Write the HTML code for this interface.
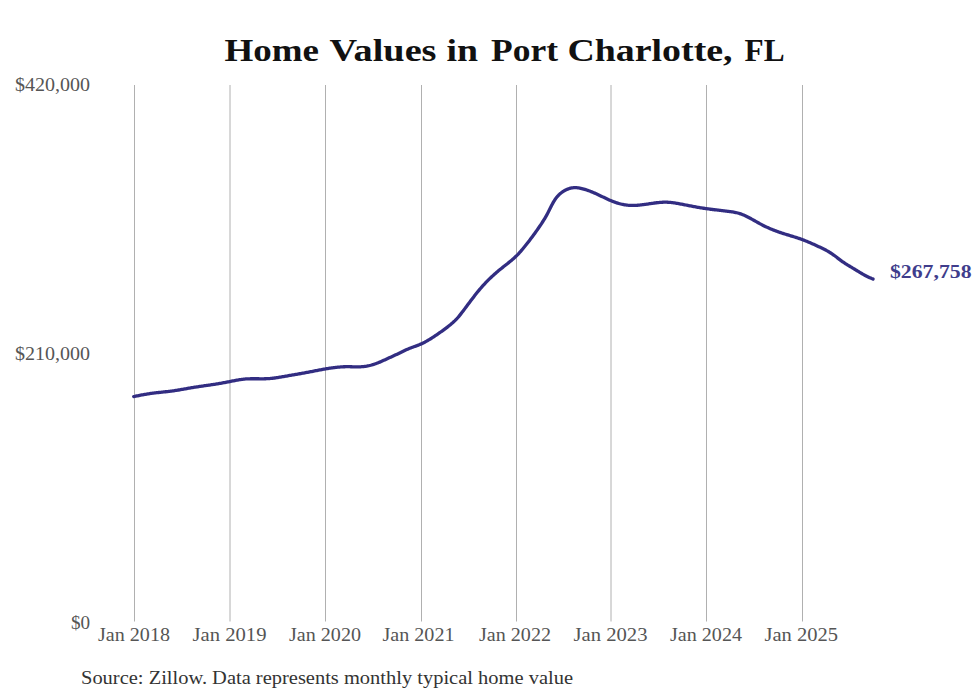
<!DOCTYPE html>
<html><head><meta charset="utf-8"><style>
html,body{margin:0;padding:0;background:#fff;width:980px;height:699px;overflow:hidden}
svg{display:block}
text{font-family:"Liberation Serif",serif}
</style></head><body>
<svg width="980" height="699" viewBox="0 0 980 699">
<rect width="980" height="699" fill="#fff"/>
<g stroke="#b0b0b0" stroke-width="1"><line x1="134.50" y1="85" x2="134.50" y2="621.5" /><line x1="230.00" y1="85" x2="230.00" y2="621.5" /><line x1="325.50" y1="85" x2="325.50" y2="621.5" /><line x1="421.50" y1="85" x2="421.50" y2="621.5" /><line x1="516.50" y1="85" x2="516.50" y2="621.5" /><line x1="611.00" y1="85" x2="611.00" y2="621.5" /><line x1="706.50" y1="85" x2="706.50" y2="621.5" /><line x1="802.50" y1="85" x2="802.50" y2="621.5" /></g>
<path d="M133.70,396.53 L134.70,396.38 L135.70,396.19 L136.70,395.98 L137.70,395.78 L138.70,395.58 L139.70,395.38 L140.70,395.18 L141.70,394.99 L142.70,394.80 L143.70,394.62 L144.70,394.43 L145.70,394.26 L146.70,394.09 L147.70,393.92 L148.70,393.76 L149.70,393.61 L150.70,393.46 L151.70,393.32 L152.70,393.19 L153.70,393.06 L154.70,392.94 L155.70,392.82 L156.70,392.71 L157.70,392.60 L158.70,392.49 L159.70,392.38 L160.70,392.28 L161.70,392.18 L162.70,392.07 L163.70,391.97 L164.70,391.87 L165.70,391.76 L166.70,391.65 L167.70,391.54 L168.70,391.43 L169.70,391.31 L170.70,391.19 L171.70,391.06 L172.70,390.92 L173.70,390.78 L174.70,390.64 L175.70,390.48 L176.70,390.33 L177.70,390.16 L178.70,390.00 L179.70,389.83 L180.70,389.65 L181.70,389.48 L182.70,389.30 L183.70,389.12 L184.70,388.94 L185.70,388.77 L186.70,388.59 L187.70,388.41 L188.70,388.23 L189.70,388.06 L190.70,387.89 L191.70,387.72 L192.70,387.55 L193.70,387.39 L194.70,387.23 L195.70,387.07 L196.70,386.92 L197.70,386.77 L198.70,386.62 L199.70,386.47 L200.70,386.32 L201.70,386.17 L202.70,386.03 L203.70,385.88 L204.70,385.74 L205.70,385.59 L206.70,385.45 L207.70,385.30 L208.70,385.16 L209.70,385.01 L210.70,384.86 L211.70,384.72 L212.70,384.57 L213.70,384.41 L214.70,384.26 L215.70,384.10 L216.70,383.95 L217.70,383.78 L218.70,383.62 L219.70,383.45 L220.70,383.28 L221.70,383.10 L222.70,382.93 L223.70,382.74 L224.70,382.55 L225.70,382.36 L226.70,382.17 L227.70,381.97 L228.70,381.77 L229.70,381.56 L230.70,381.36 L231.70,381.16 L232.70,380.96 L233.70,380.76 L234.70,380.57 L235.70,380.38 L236.70,380.20 L237.70,380.02 L238.70,379.86 L239.70,379.70 L240.70,379.55 L241.70,379.41 L242.70,379.28 L243.70,379.17 L244.70,379.07 L245.70,378.98 L246.70,378.91 L247.70,378.85 L248.70,378.81 L249.70,378.78 L250.70,378.75 L251.70,378.74 L252.70,378.73 L253.70,378.73 L254.70,378.73 L255.70,378.74 L256.70,378.75 L257.70,378.76 L258.70,378.77 L259.70,378.78 L260.70,378.79 L261.70,378.79 L262.70,378.79 L263.70,378.78 L264.70,378.77 L265.70,378.74 L266.70,378.71 L267.70,378.66 L268.70,378.61 L269.70,378.54 L270.70,378.45 L271.70,378.35 L272.70,378.25 L273.70,378.13 L274.70,378.00 L275.70,377.86 L276.70,377.72 L277.70,377.56 L278.70,377.40 L279.70,377.24 L280.70,377.07 L281.70,376.90 L282.70,376.72 L283.70,376.55 L284.70,376.37 L285.70,376.19 L286.70,376.01 L287.70,375.84 L288.70,375.66 L289.70,375.49 L290.70,375.31 L291.70,375.14 L292.70,374.96 L293.70,374.79 L294.70,374.62 L295.70,374.45 L296.70,374.27 L297.70,374.10 L298.70,373.92 L299.70,373.75 L300.70,373.57 L301.70,373.39 L302.70,373.21 L303.70,373.03 L304.70,372.85 L305.70,372.67 L306.70,372.48 L307.70,372.29 L308.70,372.10 L309.70,371.91 L310.70,371.72 L311.70,371.52 L312.70,371.33 L313.70,371.13 L314.70,370.94 L315.70,370.74 L316.70,370.55 L317.70,370.35 L318.70,370.16 L319.70,369.97 L320.70,369.78 L321.70,369.60 L322.70,369.41 L323.70,369.23 L324.70,369.05 L325.70,368.88 L326.70,368.71 L327.70,368.54 L328.70,368.38 L329.70,368.22 L330.70,368.07 L331.70,367.93 L332.70,367.79 L333.70,367.65 L334.70,367.53 L335.70,367.41 L336.70,367.30 L337.70,367.20 L338.70,367.10 L339.70,367.02 L340.70,366.94 L341.70,366.87 L342.70,366.82 L343.70,366.77 L344.70,366.74 L345.70,366.71 L346.70,366.70 L347.70,366.70 L348.70,366.71 L349.70,366.72 L350.70,366.74 L351.70,366.76 L352.70,366.79 L353.70,366.81 L354.70,366.83 L355.70,366.85 L356.70,366.85 L357.70,366.85 L358.70,366.84 L359.70,366.82 L360.70,366.78 L361.70,366.72 L362.70,366.65 L363.70,366.56 L364.70,366.44 L365.70,366.30 L366.70,366.14 L367.70,365.95 L368.70,365.74 L369.70,365.51 L370.70,365.26 L371.70,364.98 L372.70,364.69 L373.70,364.38 L374.70,364.04 L375.70,363.69 L376.70,363.32 L377.70,362.93 L378.70,362.53 L379.70,362.11 L380.70,361.69 L381.70,361.25 L382.70,360.80 L383.70,360.35 L384.70,359.90 L385.70,359.44 L386.70,358.98 L387.70,358.53 L388.70,358.07 L389.70,357.61 L390.70,357.16 L391.70,356.70 L392.70,356.25 L393.70,355.79 L394.70,355.33 L395.70,354.86 L396.70,354.39 L397.70,353.92 L398.70,353.44 L399.70,352.95 L400.70,352.46 L401.70,351.97 L402.70,351.47 L403.70,350.99 L404.70,350.51 L405.70,350.03 L406.70,349.58 L407.70,349.14 L408.70,348.72 L409.70,348.31 L410.70,347.92 L411.70,347.55 L412.70,347.18 L413.70,346.82 L414.70,346.46 L415.70,346.09 L416.70,345.72 L417.70,345.34 L418.70,344.95 L419.70,344.55 L420.70,344.12 L421.70,343.67 L422.70,343.20 L423.70,342.71 L424.70,342.20 L425.70,341.66 L426.70,341.11 L427.70,340.54 L428.70,339.95 L429.70,339.35 L430.70,338.73 L431.70,338.10 L432.70,337.46 L433.70,336.80 L434.70,336.14 L435.70,335.47 L436.70,334.79 L437.70,334.10 L438.70,333.41 L439.70,332.71 L440.70,332.00 L441.70,331.29 L442.70,330.58 L443.70,329.85 L444.70,329.11 L445.70,328.36 L446.70,327.60 L447.70,326.83 L448.70,326.04 L449.70,325.23 L450.70,324.41 L451.70,323.56 L452.70,322.70 L453.70,321.80 L454.70,320.86 L455.70,319.87 L456.70,318.84 L457.70,317.75 L458.70,316.60 L459.70,315.39 L460.70,314.14 L461.70,312.85 L462.70,311.54 L463.70,310.21 L464.70,308.86 L465.70,307.52 L466.70,306.17 L467.70,304.83 L468.70,303.48 L469.70,302.15 L470.70,300.82 L471.70,299.50 L472.70,298.19 L473.70,296.89 L474.70,295.60 L475.70,294.33 L476.70,293.07 L477.70,291.83 L478.70,290.61 L479.70,289.41 L480.70,288.24 L481.70,287.08 L482.70,285.95 L483.70,284.85 L484.70,283.76 L485.70,282.70 L486.70,281.67 L487.70,280.65 L488.70,279.65 L489.70,278.67 L490.70,277.71 L491.70,276.77 L492.70,275.84 L493.70,274.94 L494.70,274.04 L495.70,273.16 L496.70,272.30 L497.70,271.45 L498.70,270.61 L499.70,269.78 L500.70,268.97 L501.70,268.16 L502.70,267.36 L503.70,266.57 L504.70,265.79 L505.70,265.01 L506.70,264.22 L507.70,263.44 L508.70,262.64 L509.70,261.83 L510.70,261.01 L511.70,260.17 L512.70,259.31 L513.70,258.42 L514.70,257.51 L515.70,256.56 L516.70,255.58 L517.70,254.57 L518.70,253.51 L519.70,252.43 L520.70,251.31 L521.70,250.17 L522.70,248.99 L523.70,247.79 L524.70,246.57 L525.70,245.33 L526.70,244.07 L527.70,242.79 L528.70,241.49 L529.70,240.18 L530.70,238.86 L531.70,237.52 L532.70,236.17 L533.70,234.81 L534.70,233.43 L535.70,232.03 L536.70,230.62 L537.70,229.19 L538.70,227.74 L539.70,226.28 L540.70,224.80 L541.70,223.29 L542.70,221.75 L543.70,220.17 L544.70,218.54 L545.70,216.85 L546.70,215.09 L547.70,213.26 L548.70,211.35 L549.70,209.36 L550.70,207.33 L551.70,205.31 L552.70,203.39 L553.70,201.62 L554.70,200.02 L555.70,198.57 L556.70,197.26 L557.70,196.09 L558.70,195.03 L559.70,194.08 L560.70,193.22 L561.70,192.45 L562.70,191.74 L563.70,191.11 L564.70,190.53 L565.70,190.01 L566.70,189.54 L567.70,189.12 L568.70,188.74 L569.70,188.41 L570.70,188.14 L571.70,187.92 L572.70,187.77 L573.70,187.67 L574.70,187.63 L575.70,187.64 L576.70,187.70 L577.70,187.80 L578.70,187.95 L579.70,188.12 L580.70,188.33 L581.70,188.56 L582.70,188.81 L583.70,189.08 L584.70,189.37 L585.70,189.68 L586.70,190.00 L587.70,190.34 L588.70,190.69 L589.70,191.06 L590.70,191.45 L591.70,191.85 L592.70,192.26 L593.70,192.68 L594.70,193.11 L595.70,193.56 L596.70,194.01 L597.70,194.48 L598.70,194.95 L599.70,195.43 L600.70,195.91 L601.70,196.39 L602.70,196.87 L603.70,197.35 L604.70,197.83 L605.70,198.31 L606.70,198.78 L607.70,199.24 L608.70,199.69 L609.70,200.14 L610.70,200.57 L611.70,200.98 L612.70,201.39 L613.70,201.77 L614.70,202.14 L615.70,202.50 L616.70,202.84 L617.70,203.16 L618.70,203.46 L619.70,203.74 L620.70,204.00 L621.70,204.24 L622.70,204.46 L623.70,204.66 L624.70,204.84 L625.70,204.99 L626.70,205.12 L627.70,205.23 L628.70,205.31 L629.70,205.37 L630.70,205.42 L631.70,205.44 L632.70,205.45 L633.70,205.44 L634.70,205.41 L635.70,205.37 L636.70,205.31 L637.70,205.24 L638.70,205.16 L639.70,205.07 L640.70,204.96 L641.70,204.85 L642.70,204.72 L643.70,204.59 L644.70,204.46 L645.70,204.32 L646.70,204.17 L647.70,204.02 L648.70,203.87 L649.70,203.72 L650.70,203.57 L651.70,203.42 L652.70,203.28 L653.70,203.14 L654.70,203.00 L655.70,202.87 L656.70,202.75 L657.70,202.64 L658.70,202.54 L659.70,202.45 L660.70,202.37 L661.70,202.31 L662.70,202.25 L663.70,202.22 L664.70,202.20 L665.70,202.20 L666.70,202.22 L667.70,202.26 L668.70,202.32 L669.70,202.39 L670.70,202.48 L671.70,202.58 L672.70,202.70 L673.70,202.83 L674.70,202.97 L675.70,203.13 L676.70,203.29 L677.70,203.46 L678.70,203.64 L679.70,203.82 L680.70,204.01 L681.70,204.21 L682.70,204.40 L683.70,204.60 L684.70,204.80 L685.70,205.00 L686.70,205.20 L687.70,205.40 L688.70,205.59 L689.70,205.79 L690.70,205.98 L691.70,206.17 L692.70,206.36 L693.70,206.54 L694.70,206.73 L695.70,206.91 L696.70,207.09 L697.70,207.26 L698.70,207.43 L699.70,207.60 L700.70,207.77 L701.70,207.93 L702.70,208.09 L703.70,208.25 L704.70,208.40 L705.70,208.55 L706.70,208.70 L707.70,208.84 L708.70,208.98 L709.70,209.11 L710.70,209.24 L711.70,209.37 L712.70,209.49 L713.70,209.62 L714.70,209.74 L715.70,209.86 L716.70,209.98 L717.70,210.09 L718.70,210.21 L719.70,210.33 L720.70,210.44 L721.70,210.56 L722.70,210.68 L723.70,210.80 L724.70,210.91 L725.70,211.04 L726.70,211.16 L727.70,211.28 L728.70,211.41 L729.70,211.54 L730.70,211.68 L731.70,211.82 L732.70,211.97 L733.70,212.14 L734.70,212.32 L735.70,212.52 L736.70,212.74 L737.70,212.99 L738.70,213.27 L739.70,213.57 L740.70,213.91 L741.70,214.27 L742.70,214.67 L743.70,215.09 L744.70,215.53 L745.70,215.99 L746.70,216.48 L747.70,216.98 L748.70,217.49 L749.70,218.02 L750.70,218.56 L751.70,219.11 L752.70,219.67 L753.70,220.23 L754.70,220.79 L755.70,221.36 L756.70,221.92 L757.70,222.48 L758.70,223.04 L759.70,223.59 L760.70,224.13 L761.70,224.66 L762.70,225.17 L763.70,225.68 L764.70,226.17 L765.70,226.66 L766.70,227.13 L767.70,227.59 L768.70,228.04 L769.70,228.47 L770.70,228.90 L771.70,229.32 L772.70,229.73 L773.70,230.13 L774.70,230.52 L775.70,230.90 L776.70,231.27 L777.70,231.63 L778.70,231.98 L779.70,232.33 L780.70,232.67 L781.70,233.00 L782.70,233.33 L783.70,233.64 L784.70,233.96 L785.70,234.27 L786.70,234.58 L787.70,234.88 L788.70,235.19 L789.70,235.49 L790.70,235.80 L791.70,236.10 L792.70,236.41 L793.70,236.72 L794.70,237.03 L795.70,237.35 L796.70,237.67 L797.70,238.00 L798.70,238.33 L799.70,238.67 L800.70,239.03 L801.70,239.38 L802.70,239.75 L803.70,240.13 L804.70,240.52 L805.70,240.92 L806.70,241.32 L807.70,241.74 L808.70,242.16 L809.70,242.59 L810.70,243.02 L811.70,243.46 L812.70,243.90 L813.70,244.35 L814.70,244.80 L815.70,245.26 L816.70,245.72 L817.70,246.18 L818.70,246.64 L819.70,247.10 L820.70,247.57 L821.70,248.05 L822.70,248.53 L823.70,249.03 L824.70,249.53 L825.70,250.06 L826.70,250.60 L827.70,251.16 L828.70,251.74 L829.70,252.35 L830.70,252.98 L831.70,253.64 L832.70,254.33 L833.70,255.05 L834.70,255.79 L835.70,256.55 L836.70,257.31 L837.70,258.08 L838.70,258.85 L839.70,259.61 L840.70,260.35 L841.70,261.08 L842.70,261.78 L843.70,262.47 L844.70,263.13 L845.70,263.78 L846.70,264.41 L847.70,265.04 L848.70,265.65 L849.70,266.26 L850.70,266.86 L851.70,267.46 L852.70,268.05 L853.70,268.65 L854.70,269.26 L855.70,269.87 L856.70,270.48 L857.70,271.10 L858.70,271.72 L859.70,272.33 L860.70,272.93 L861.70,273.52 L862.70,274.10 L863.70,274.66 L864.70,275.20 L865.70,275.72 L866.70,276.22 L867.70,276.71 L868.70,277.18 L869.70,277.64 L870.70,278.08 L871.70,278.51 L872.70,278.85 L873.00,279.03" fill="none" stroke="#322d82" stroke-width="3.3" stroke-linecap="round" stroke-linejoin="round"/>
<text id="t1" x="224.49" y="60.5" font-size="31.5" font-weight="bold" fill="#111" textLength="94.52" lengthAdjust="spacingAndGlyphs">Home</text>
<text id="t2" x="329.50" y="60.5" font-size="31.5" font-weight="bold" fill="#111" textLength="107.02" lengthAdjust="spacingAndGlyphs">Values</text>
<text id="t3" x="446.49" y="60.5" font-size="31.5" font-weight="bold" fill="#111" textLength="31.51" lengthAdjust="spacingAndGlyphs">in</text>
<text id="t4" x="491.00" y="60.5" font-size="31.5" font-weight="bold" fill="#111" textLength="67.00" lengthAdjust="spacingAndGlyphs">Port</text>
<text id="t5" x="567.46" y="60.5" font-size="31.5" font-weight="bold" fill="#111" textLength="165.06" lengthAdjust="spacingAndGlyphs">Charlotte,</text>
<text id="t6" x="744.49" y="60.5" font-size="31.5" font-weight="bold" fill="#111" textLength="40.07" lengthAdjust="spacingAndGlyphs">FL</text>
<text id="y1" x="14.98" y="90.7" font-size="18.5" font-weight="normal" fill="#555" textLength="75.04" lengthAdjust="spacingAndGlyphs">$420,000</text>
<text id="y2" x="14.98" y="359.7" font-size="18.5" font-weight="normal" fill="#555" textLength="75.04" lengthAdjust="spacingAndGlyphs">$210,000</text>
<text id="y3" x="70.93" y="629.2" font-size="18.5" font-weight="normal" fill="#555" textLength="19.15" lengthAdjust="spacingAndGlyphs">$0</text>
<text id="x1" x="98.00" y="640.5" font-size="18.5" font-weight="normal" fill="#555" textLength="72.01" lengthAdjust="spacingAndGlyphs">Jan 2018</text>
<text id="x2" x="192.48" y="640.5" font-size="18.5" font-weight="normal" fill="#555" textLength="74.04" lengthAdjust="spacingAndGlyphs">Jan 2019</text>
<text id="x3" x="288.99" y="640.5" font-size="18.5" font-weight="normal" fill="#555" textLength="72.02" lengthAdjust="spacingAndGlyphs">Jan 2020</text>
<text id="x4" x="382.50" y="640.5" font-size="18.5" font-weight="normal" fill="#555" textLength="72.04" lengthAdjust="spacingAndGlyphs">Jan 2021</text>
<text id="x5" x="478.99" y="640.5" font-size="18.5" font-weight="normal" fill="#555" textLength="72.02" lengthAdjust="spacingAndGlyphs">Jan 2022</text>
<text id="x6" x="573.48" y="640.5" font-size="18.5" font-weight="normal" fill="#555" textLength="74.04" lengthAdjust="spacingAndGlyphs">Jan 2023</text>
<text id="x7" x="669.99" y="640.5" font-size="18.5" font-weight="normal" fill="#555" textLength="72.02" lengthAdjust="spacingAndGlyphs">Jan 2024</text>
<text id="x8" x="764.48" y="640.5" font-size="18.5" font-weight="normal" fill="#555" textLength="73.53" lengthAdjust="spacingAndGlyphs">Jan 2025</text>
<text id="e1" x="889.99" y="277.9" font-size="18" font-weight="bold" fill="#403d8c" textLength="81.51" lengthAdjust="spacingAndGlyphs">$267,758</text>
<text id="s1" x="81.00" y="683.5" font-size="19.5" font-weight="normal" fill="#333" textLength="492.01" lengthAdjust="spacingAndGlyphs">Source: Zillow. Data represents monthly typical home value</text>
</svg>
</body></html>
